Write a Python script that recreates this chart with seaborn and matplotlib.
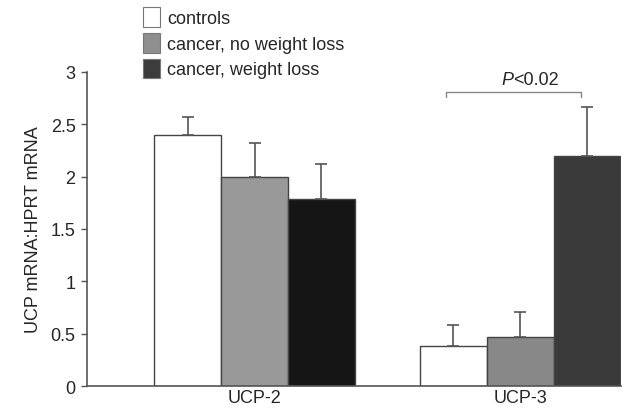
import pandas as pd
import numpy as np
import seaborn as sns
import matplotlib.pyplot as plt
from matplotlib.patches import Patch

genes = ["UCP-2", "UCP-3"]
groups = ["controls", "cancer, no weight loss", "cancer, weight loss"]
ucp2_mean = [2.40, 2.00, 1.79]
ucp2_sem = [0.17, 0.32, 0.33]
ucp3_mean = [0.38, 0.47, 2.20]
ucp3_sem = [0.20, 0.24, 0.46]
bar_colors = {"UCP-2": ["#ffffff", "#999999", "#151515"],
              "UCP-3": ["#ffffff", "#888888", "#3a3a3a"]}
legend_colors = ["#ffffff", "#8f8f8f", "#3c3c3c"]
p_label = "P<0.02"

df = pd.DataFrame({
    "gene": np.repeat(genes, len(groups)),
    "group": groups * len(genes),
    "ratio": ucp2_mean + ucp3_mean,
    "err": ucp2_sem + ucp3_sem,
})

sns.set_style("white")
plt.rcParams["font.family"] = ["Liberation Sans", "DejaVu Sans"]
fs = 13

fig = plt.figure(figsize=(6.24, 4.14), dpi=100)
ax = fig.add_axes([0.139, 0.065, 0.856, 0.759])

sns.barplot(data=df, x="gene", y="ratio", hue="group", hue_order=groups,
            order=genes, palette=legend_colors, width=0.755, errorbar=None,
            edgecolor="#444444", linewidth=1.0, legend=False, ax=ax)

# recolor bars per gene, add one-sided error bars
bar_containers = list(ax.containers)
for gi, g in enumerate(groups):
    cont = bar_containers[gi]
    for xi, bar in enumerate(cont):
        gene = genes[xi]
        bar.set_facecolor(bar_colors[gene][gi])
        row = df[(df.gene == gene) & (df.group == g)].iloc[0]
        cx = bar.get_x() + bar.get_width() / 2
        ax.errorbar(cx, row["ratio"], yerr=[[0], [row["err"]]], fmt="none",
                    ecolor="#555555", elinewidth=1.2, capsize=4, capthick=1.2)

# significance bracket over UCP-3
bx0, bx1, by = 0.72, 1.23, 2.81
ax.plot([bx0, bx0, bx1, bx1], [by - 0.05, by, by, by - 0.05],
        color="#888888", lw=1.0)
ax.text((bx0 + bx1) / 2, by + 0.04, p_label[:1], ha="right", va="bottom",
        fontsize=fs, style="italic")
ax.text((bx0 + bx1) / 2, by + 0.04, p_label[1:], ha="left", va="bottom",
        fontsize=fs)

ax.set_ylim(0, 3)
ax.set_xlim(-0.632, 1.379)
ax.set_yticks([0, 0.5, 1, 1.5, 2, 2.5, 3])
ax.set_yticklabels(["0", "0.5", "1", "1.5", "2", "2.5", "3"])
ax.set_ylabel("UCP mRNA:HPRT mRNA", fontsize=fs, labelpad=6)
ax.set_xlabel("")
ax.tick_params(axis="y", length=4, width=1, color="#555555", labelsize=fs,
               left=True, direction="out", pad=4)
ax.tick_params(axis="x", length=0, labelsize=fs, pad=2)
sns.despine(ax=ax, top=True, right=True)
for s in ["left", "bottom"]:
    ax.spines[s].set_color("#555555")
    ax.spines[s].set_linewidth(1.2)

handles = [Patch(facecolor=c, edgecolor="#777777", linewidth=0.8) for c in legend_colors]
fig.legend(handles, groups, loc="upper left", bbox_to_anchor=(0.214, 1.004),
           frameon=False, fontsize=fs, handlelength=0.9, handleheight=1.3,
           handletextpad=0.4, labelspacing=0.32, borderaxespad=0.15)

plt.savefig("out.png", dpi=100)
